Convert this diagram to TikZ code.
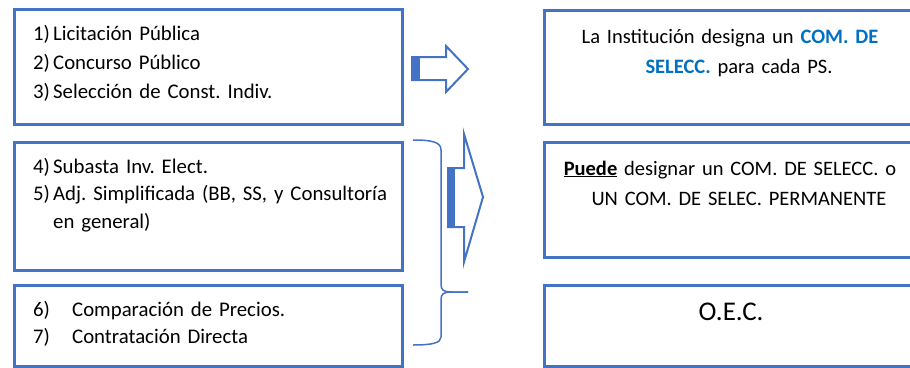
\documentclass[tikz,border=0pt]{standalone}
\usepackage{fontspec}
\setmainfont{Carlito}
\frenchspacing
\definecolor{bordblue}{HTML}{4472C4}
\definecolor{textblue}{HTML}{0070C0}
\newcommand{\leftsetup}[1]{\fontsize{20.8}{#1}\selectfont\spaceskip=3.6pt plus 1pt minus 1pt\relax}
\begin{document}
\begin{tikzpicture}[x=1pt,y=-1pt,
  boxnode/.style={draw=bordblue, line width=2.5pt, anchor=north west, inner sep=0pt},
  ltext/.style={anchor=base west, inner sep=0pt, text width=365pt, align=left},
  rtext/.style={anchor=base, inner sep=0pt, text width=370pt, align=center,
    font=\fontsize{20.5}{30}\selectfont},
  arrowline/.style={draw=bordblue, line width=2pt, line join=miter},
  bracestyle/.style={draw=bordblue, line width=1.5pt},
]
\useasboundingbox (0,0) rectangle (910,367);
\clip (0,0) rectangle (910,367);

% left boxes
\node[boxnode, minimum width=388pt, minimum height=115pt] (L1) at (13,8) {};
\node[boxnode, minimum width=388pt, minimum height=128pt] (L2) at (13,141) {};
\node[boxnode, minimum width=388pt, minimum height=81pt] (L3) at (13,284) {};

% right boxes
\node[boxnode, minimum width=374pt, minimum height=114pt] (R1) at (543,9) {};
\node[boxnode, minimum width=374pt, minimum height=115pt] (R2) at (543,141) {};
\node[boxnode, minimum width=374pt, minimum height=81pt] (R3) at (543,284) {};

% left texts
\node[ltext, font=\leftsetup{29}] (T1) at (33,40) {\makebox[20pt][l]{1)}Licitación Pública\\
\makebox[20pt][l]{2)}Concurso Público\\
\makebox[20pt][l]{3)}Selección de Const. Indiv.};
\node[ltext, font=\leftsetup{27.5}] (T2) at (33,173) {\makebox[20pt][l]{4)}Subasta Inv. Elect.\\
\makebox[20pt][l]{5)}Adj. Simplificada (BB, SS, y Consultoría\\
\hspace*{20pt}en general)};
\node[ltext, font=\leftsetup{27.5}] (T3) at (33,316) {\makebox[39pt][l]{6)}Comparación de Precios.\\
\makebox[39pt][l]{7)}Contratación Directa};

% right texts
\node[rtext] (U1) at (730,43) {La Institución designa un \textbf{\color{textblue}COM. DE}\\
\hspace*{18pt}\textbf{\color{textblue}SELECC.} para cada PS.};
\node[rtext] (U2) at (730,175) {\underline{\textbf{Puede}} designar un COM. DE SELECC. o\\
\hspace*{18pt}UN COM. DE SELEC. PERMANENTE};
\node[rtext, font=\fontsize{27}{32}\selectfont] (U3) at (731,320) {O.E.C.};

% arrow 1
\draw[arrowline] (412,57) -- (446,57) -- (446,46) -- (468,69) -- (446,92) -- (446,80) -- (412,80) -- cycle;
\fill[bordblue] (412,57) rectangle (420,80);

% arrow 2
\draw[arrowline] (448,168) -- (464,168) -- (464,134) -- (483,197) -- (464,262) -- (464,227) -- (448,227) -- cycle;
\fill[bordblue] (448,168) rectangle (455,227);

% brace
\draw[bracestyle] (413,140) .. controls (432,140) and (441,142) .. (441,150)
  -- (441,284) .. controls (441,290) and (443,292) .. (452,292) -- (468,292);
\draw[bracestyle] (468,292) -- (452,292) .. controls (443,292) and (441,294) .. (441,300)
  -- (441,337) .. controls (441,343) and (432,345) .. (413,345);
\end{tikzpicture}
\end{document}
